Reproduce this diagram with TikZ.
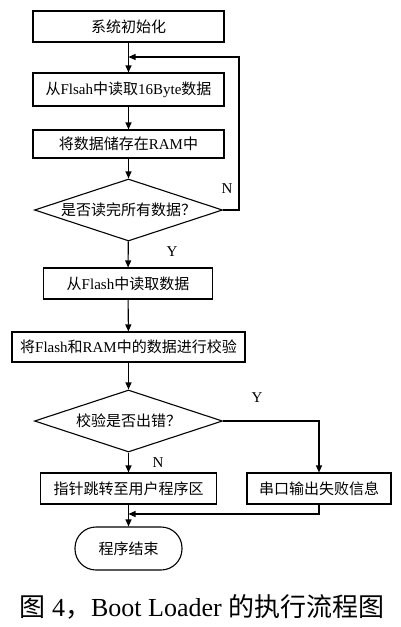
\documentclass[tikz,border=0pt]{standalone}
\usepackage{fontspec}
\setmainfont{Liberation Serif}
\newfontfamily\cjk{Noto Sans CJK SC}
\newcommand{\zh}[1]{{\cjk #1}}
\usetikzlibrary{shapes.geometric,arrows.meta}
\begin{document}
\begin{tikzpicture}[x=1pt,y=-1pt,
  every node/.style={font=\fontsize{15}{17}\selectfont},
  box/.style={draw,line width=1.1pt,rectangle,inner sep=0pt},
  dec/.style={draw,line width=1.1pt,diamond,aspect=3,inner sep=0pt,minimum width=188pt,minimum height=62pt},
  term/.style={draw,line width=1.1pt,rectangle,rounded corners=21pt,inner sep=0pt,minimum width=107pt,minimum height=43pt},
  arr/.style={line width=1.1pt,-{Triangle[length=7pt,width=6pt]}},
  lbl/.style={font=\fontsize{15}{17}\selectfont}]
\useasboundingbox (0,0) rectangle (400,627);
\fill[white] (0,0) rectangle (400,627);
\node[box,minimum width=191pt,minimum height=31pt] (b1) at (128.5,26.5) {\zh{系统初始化}};
\node[box,minimum width=191pt,minimum height=33pt] (b2) at (128.5,89.5) {\zh{从}Flsah\zh{中读取}16Byte\zh{数据}};
\node[box,minimum width=191pt,minimum height=28pt] (b3) at (128.5,144) {\zh{将数据储存在}RAM\zh{中}};
\node[dec] (d1) at (128.5,210) {\zh{是否读完所有数据？}};
\node[box,minimum width=169pt,minimum height=31pt] (b4) at (128,283.5) {\zh{从}Flash\zh{中读取数据}};
\node[box,minimum width=233pt,minimum height=30pt] (b5) at (128.5,347) {\zh{将}Flash\zh{和}RAM\zh{中的数据进行校验}};
\node[dec] (d2) at (128.5,421) {\zh{校验是否出错？}};
\node[box,minimum width=176pt,minimum height=31pt] (b6) at (128.5,488.5) {\zh{指针跳转至用户程序区}};
\node[box,minimum width=144pt,minimum height=31pt] (b7) at (319,488.5) {\zh{串口输出失败信息}};
\node[term] (t) at (128.5,548.5) {\zh{程序结束}};
\node[lbl] (n1) at (227,189) {N};
\node[lbl] (y1) at (172,252) {Y};
\node[lbl] (y2) at (257,398) {Y};
\node[lbl] (n2) at (158,463) {N};
\node[font=\fontsize{26}{30}\selectfont] (cap) at (202,607) {\zh{图} 4\zh{，}Boot Loader \zh{的执行流程图}};
\coordinate (l1) at (239,57);
\coordinate (m) at (128.5,514);
\draw[arr] (b1) -- (b2);
\draw[arr] (b2) -- (b3);
\draw[arr] (b3) -- (d1);
\draw[arr] (d1.east) -| (l1) -- (b1.south |- l1);
\draw[arr] (d1) -- (b4);
\draw[arr] (b4) -- (b5);
\draw[arr] (b5) -- (d2);
\draw[arr] (d2) -- (b6);
\draw[arr] (d2.east) -| (b7.north);
\draw[arr] (b6) -- (t);
\draw[arr] (b7.south) |- (m);
\end{tikzpicture}
\end{document}
